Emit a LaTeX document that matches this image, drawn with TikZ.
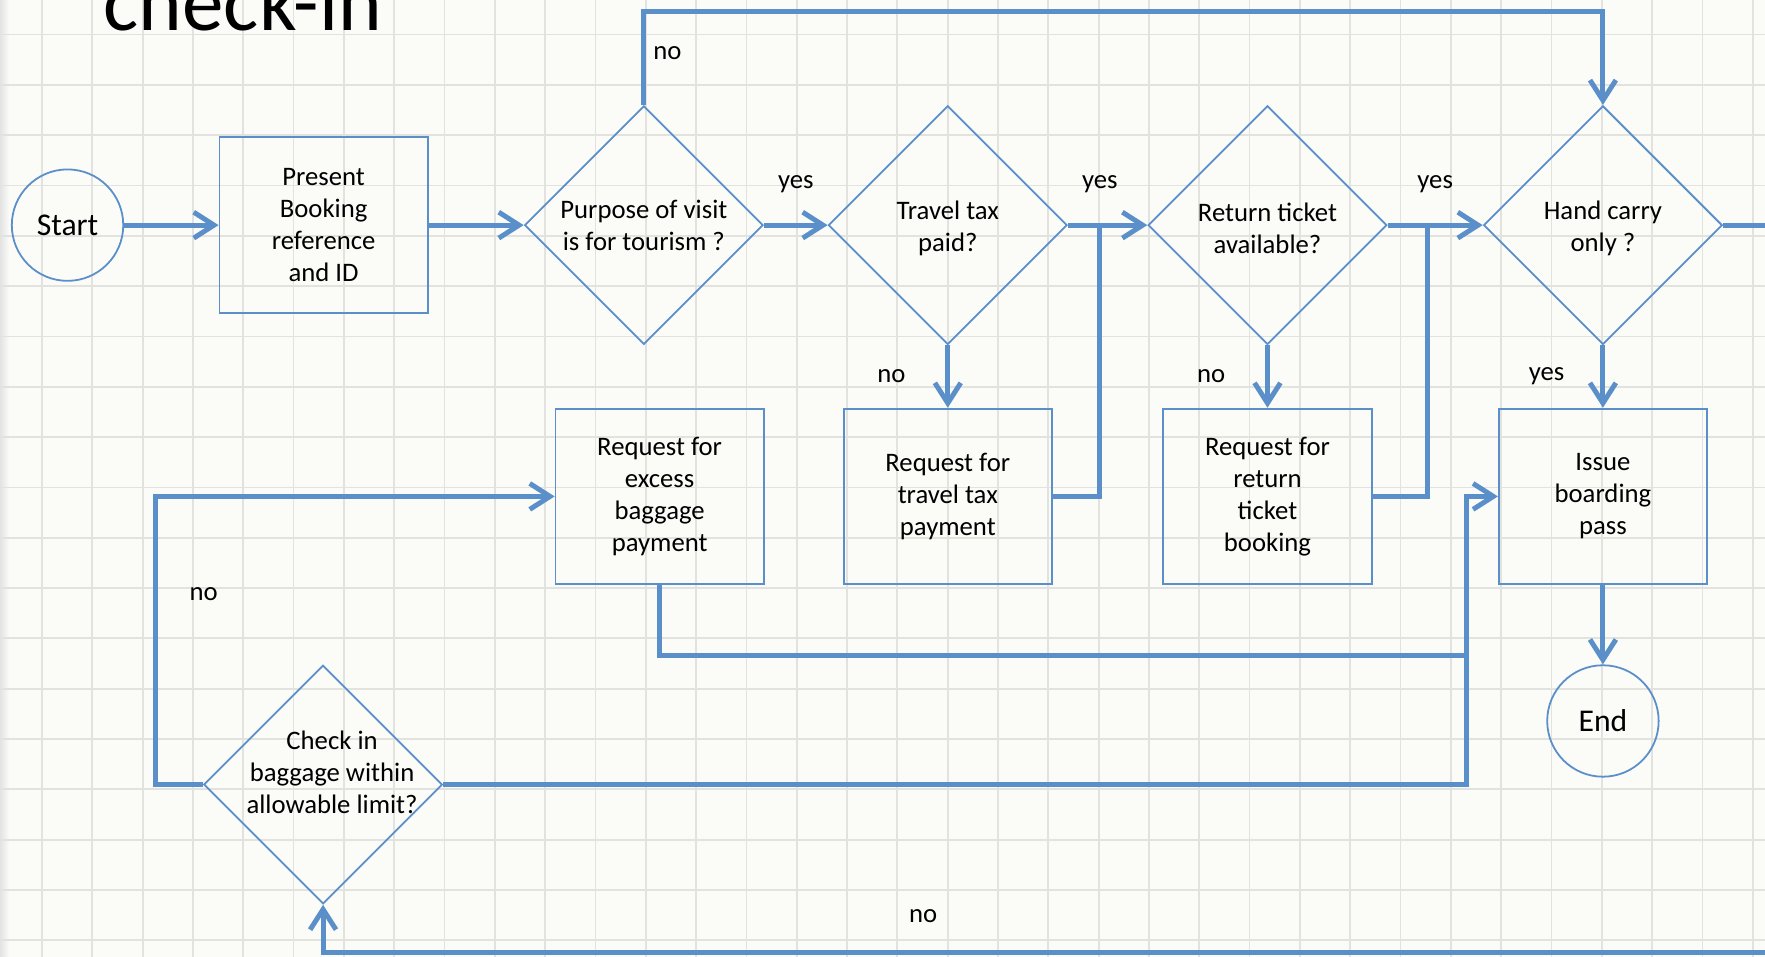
\documentclass[tikz,border=0pt]{standalone}
\usepackage{fontspec}
\setmainfont{Carlito}
\usetikzlibrary{arrows.meta,shapes.geometric}
\definecolor{cLine}{HTML}{5B8FC9}
\definecolor{cPaper}{HTML}{FBFBF8}
\definecolor{cGrid}{HTML}{E2E2DF}
\newcommand{\lblfont}{\fontsize{13.5}{16.2}\selectfont}
\tikzset{
  box/.style={draw=cLine, line width=0.9pt, align=center, font=\lblfont,
    minimum width=3.70cm, minimum height=3.12cm, inner sep=2pt},
  decision/.style={diamond, draw=cLine, line width=0.9pt,
    minimum width=4.24cm, minimum height=4.24cm, inner sep=0pt},
  dtext/.style={align=center, font=\lblfont, inner sep=0pt},
  terminal/.style={circle, draw=cLine, line width=0.9pt, minimum size=1.98cm,
    inner sep=0pt, font=\fontsize{16}{19}\selectfont},
  tag/.style={font=\lblfont, inner sep=0pt},
  gridline/.style={draw=cGrid, line width=0.9pt},
}

\begin{document}
\begin{tikzpicture}[
      e/.style={draw=cLine, line width=2.5pt},
      flow/.style={e, -{Straight Barb[length=3.6mm, width=4.6mm]}}]
    % --- paper, grid ---
    \useasboundingbox (0,0) rectangle (31.36,-17);
    \clip (0,0) rectangle (31.36,-17);
    \fill[cPaper] (0,0) rectangle (31.36,-17);
    \fill[left color=gray!22, right color=cPaper] (0,0) rectangle (0.16,-17);
    \foreach \i in {0,...,34}
      \draw[gridline] ({0.746+0.894*\i},0) -- ++(0,-17);
    \foreach \j in {0,...,18}
      \draw[gridline] (0,{-0.614-0.894*\j}) -- ++(31.36,0);
    \node[anchor=base west, font=\fontsize{42}{50}\selectfont] (title) at (1.72,-0.54) {check-in};
    % --- nodes, explicit coordinates ---
    \node[terminal] (start)   at (1.20,-4.00)  {Start};
    \node[box]      (present) at (5.75,-4.00)  {Present\\Booking\\reference\\and ID};
    \node[decision, label={[dtext]center:Purpose of visit\\is for tourism ?}]
                    (purpose) at (11.44,-4.00) {};
    \node[decision, label={[dtext, yshift=-0.6mm]center:Travel tax\\paid?}]
                    (travel)  at (16.84,-4.00) {};
    \node[decision, label={[dtext, yshift=-0.6mm]center:Return ticket\\available?}]
                    (retn)    at (22.52,-4.00) {};
    \node[decision, label={[dtext, yshift=-0.6mm]center:Hand carry\\only ?}]
                    (hand)    at (28.48,-4.00) {};
    \node[box]      (excess)  at (11.72,-8.82) {Request for\\excess\\baggage\\payment};
    \node[box]      (taxreq)  at (16.84,-8.82) {Request for\\travel tax\\payment};
    \node[box]      (retreq)  at (22.52,-8.82) {Request for\\return\\ticket\\booking};
    \node[box]      (issue)   at (28.48,-8.82) {Issue\\boarding\\pass};
    \node[terminal] (end)     at (28.48,-12.81) {End};
    \node[decision, label={[dtext, xshift=1.6mm, yshift=2.2mm]center:Check in\\baggage within\\allowable limit?}]
                    (check)   at (5.74,-13.94) {};
    % --- bend points ---
    \coordinate (jtop) at (11.44,-0.20);
    \coordinate (jtax) at (19.54,-4.00);
    \coordinate (jret) at (25.36,-4.00);
    \coordinate (jbag) at (26.06,-11.64);
    \coordinate (jchk) at (2.76,-13.94);
    \coordinate (jout) at (32.00,-16.92);
    % --- main flow ---
    \draw[flow] (start) -- (present);
    \draw[flow] (present) -- (purpose);
    \draw[flow] (purpose) -- node[tag, yshift=7.3mm]{yes} (travel);
    \draw[flow] (travel) -- node[tag, yshift=7.3mm, xshift=-1.4mm]{yes} (retn);
    \draw[flow] (retn) -- node[tag, yshift=7.3mm]{yes} (hand);
    \draw[flow] (travel) -- node[tag, xshift=-10mm]{no} (taxreq);
    \draw[flow] (retn) -- node[tag, xshift=-10mm]{no} (retreq);
    \draw[flow] (hand) -- node[tag, xshift=-10mm]{yes} (issue);
    \draw[flow] (issue) -- (end);
    \draw[flow] (purpose.north) -- node[tag, pos=0.55, xshift=4.2mm]{no} (jtop) -| (hand.north);
    % payments join back in
    \draw[e] (taxreq.east) -| (jtax);
    \draw[e] (retreq.east) -| (jret);
    \draw[e] (excess.south) |- (jbag);
    % baggage check loop
    \draw[flow] (check.east) -| (jbag) |- (issue.west);
    \draw[flow] (check.west) -- (jchk) |- node[tag, pos=0.33, xshift=8.6mm]{no} (excess.west);
    \draw[flow] (hand.east) -| (jout) -| node[tag, pos=0.297, yshift=6.4mm]{no} (check.south);
  \end{tikzpicture}
\end{document}
